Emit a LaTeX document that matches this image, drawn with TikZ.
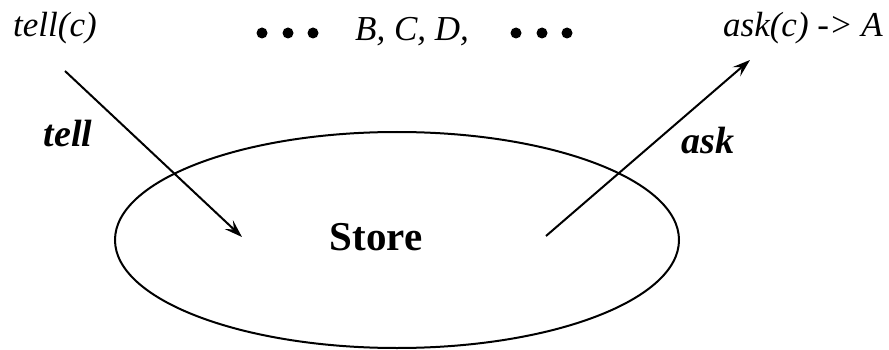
\documentclass[tikz,border=0pt]{standalone}
\usepackage{fontspec}
\setmainfont{Liberation Serif}
\usetikzlibrary{arrows.meta,shapes.geometric}
\begin{document}
\begin{tikzpicture}[x=1pt,y=-1pt,
  lbl/.style={inner sep=0pt,font=\fontsize{35}{40}\selectfont\itshape},
  blbl/.style={inner sep=0pt,font=\fontsize{38}{42}\selectfont\bfseries\itshape},
  dot/.style={circle,fill=black,inner sep=0pt,minimum size=11pt},
  conn/.style={line width=2pt,-{Stealth[length=18pt,width=12pt,inset=7pt]}}]
\useasboundingbox (0,0) rectangle (889,350);
\node[ellipse,draw,line width=2pt,minimum width=564pt,minimum height=216pt,inner sep=0pt] (store) at (397,240) {};
\node[inner sep=0pt,font=\fontsize{41}{46}\selectfont\bfseries] (storetxt) at (376,237) {Store};
\node[lbl] (tellc) at (55,28) {tell(c)};
\node[lbl] (askc) at (803,28) {ask(c) -> A};
\node[lbl] (bcd) at (412,32) {B, C, D,};
\node[dot] (d1) at (262,33) {};
\node[dot] (d2) at (288,33) {};
\node[dot] (d3) at (313,33) {};
\node[dot] (d4) at (516,33) {};
\node[dot] (d5) at (542,33) {};
\node[dot] (d6) at (567,33) {};
\node[blbl] (telllbl) at (68,134) {tell};
\node[blbl] (asklbl) at (708,141) {ask};
\coordinate (tstart) at (65,71);
\coordinate (tend) at (242,237);
\coordinate (astart) at (546,236);
\coordinate (aend) at (750,60);
\draw[conn] (tstart) -- (tend);
\draw[conn] (astart) -- (aend);
\end{tikzpicture}
\end{document}
